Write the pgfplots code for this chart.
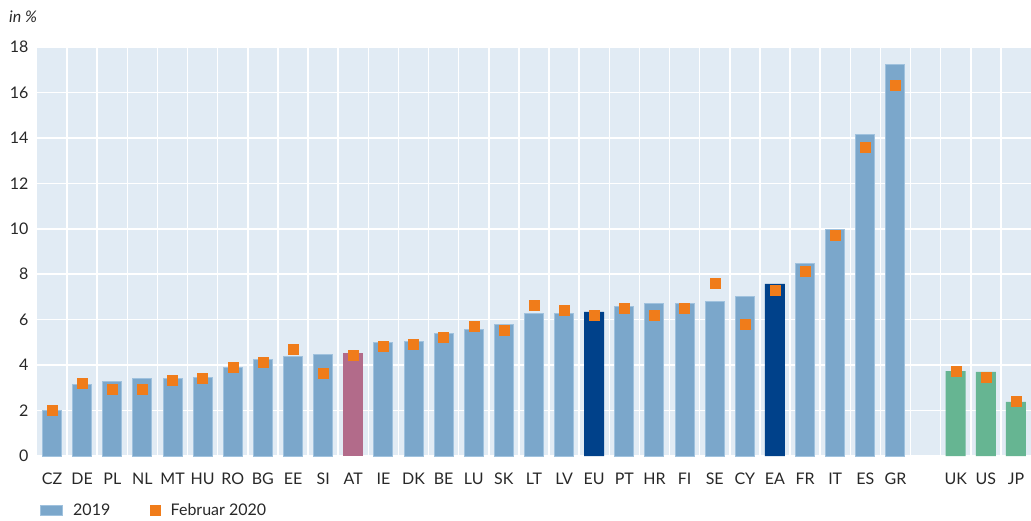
\documentclass[border=0pt]{standalone}
\usepackage{pgfplots}
\pgfplotsset{compat=1.18}
\usepackage{fontspec}
\setmainfont{Lato}
\definecolor{bg}{RGB}{225,235,244}
\definecolor{barblue}{RGB}{123,167,203}
\definecolor{barborder}{RGB}{160,194,222}
\definecolor{atcol}{RGB}{178,107,138}
\definecolor{darkblue}{RGB}{0,65,138}
\definecolor{greencol}{RGB}{102,181,146}
\definecolor{orangecol}{RGB}{240,124,26}
\definecolor{txt}{RGB}{40,40,40}
\begin{document}
\begin{tikzpicture}
\useasboundingbox (-37pt,-64pt) rectangle (994pt,456pt);
\begin{axis}[
 at={(0,0)}, anchor=south west,
 scale only axis, width=994pt, height=409pt,
 xmin=-0.5, xmax=32.5, ymin=0, ymax=18,
 axis background/.style={fill=bg},
 axis line style={draw=none},
 ytick={0,2,...,18},
 xtick={0,...,28,30,31,32},
 xticklabels={CZ,DE,PL,NL,MT,HU,RO,BG,EE,SI,AT,IE,DK,BE,LU,SK,LT,LV,EU,PT,HR,FI,SE,CY,EA,FR,IT,ES,GR,UK,US,JP},
 minor xtick={0.5,1.5,...,31.5},
 ymajorgrids, xminorgrids,
 major grid style={white, line width=1.5pt},
 minor grid style={white, line width=1.5pt},
 major tick length=0pt, minor tick length=0pt,
 /pgf/number format/assume math mode=true,
 tick label style={font=\fontsize{16}{19}\selectfont, text=txt},
 xticklabel style={yshift=-13pt},
 yticklabel style={xshift=-5pt},
 legend style={at={([yshift=-54pt]axis description cs:0,0)}, anchor=west, draw=none, fill=none,
   legend columns=2, font=\fontsize{16}{19}\selectfont, text=txt,
   /tikz/every odd column/.append style={column sep=8pt},
   /tikz/every even column/.append style={column sep=38pt}},
 legend cell align=left,
]
\addplot[ybar, bar width=19pt, bar shift=0pt, fill=barblue, draw=barborder, line width=1pt,
  legend image code/.code={\draw[fill=barblue, draw=barborder, line width=1pt] (0pt,-5pt) rectangle (22pt,5pt);}]
coordinates {(0,2.02) (1,3.15) (2,3.29) (3,3.42) (4,3.43) (5,3.46) (6,3.90) (7,4.24) (8,4.39) (9,4.45)
 (11,4.98) (12,5.05) (13,5.37) (14,5.57) (15,5.77) (16,6.29) (17,6.29) (19,6.56) (20,6.69) (21,6.73)
 (22,6.79) (23,7.04) (25,8.48) (26,9.96) (27,14.13) (28,17.25)};
\addlegendentry{2019}
\addplot[ybar, bar width=20pt, bar shift=0pt, fill=atcol, draw=none, forget plot]
coordinates {(10,4.53)};
\addplot[ybar, bar width=20pt, bar shift=0pt, fill=darkblue, draw=none, forget plot]
coordinates {(18,6.34) (24,7.57)};
\addplot[ybar, bar width=20pt, bar shift=0pt, fill=greencol, draw=none, forget plot]
coordinates {(30,3.74) (31,3.70) (32,2.38)};
\addplot[only marks, mark=square*, mark size=5pt, color=orangecol, mark options={draw=none, fill=orangecol},
  legend image code/.code={\fill[orangecol] (6pt,-5pt) rectangle (16pt,5pt);}]
coordinates {(0,2.0) (1,3.2) (2,2.93) (3,2.93) (4,3.33) (5,3.42) (6,3.9) (7,4.12) (8,4.7) (9,3.64)
 (10,4.43) (11,4.83) (12,4.92) (13,5.22) (14,5.71) (15,5.53) (16,6.63) (17,6.41) (18,6.19) (19,6.5)
 (20,6.19) (21,6.5) (22,7.6) (23,5.8) (24,7.29) (25,8.13) (26,9.71) (27,13.59) (28,16.32)
 (30,3.73) (31,3.49) (32,2.41)};
\addlegendentry{Februar 2020}
\end{axis}
\node[anchor=west, font=\fontsize{16}{19}\selectfont\itshape, text=txt, inner sep=0pt] at (-28pt,439pt) {in \%};
\end{tikzpicture}
\end{document}
